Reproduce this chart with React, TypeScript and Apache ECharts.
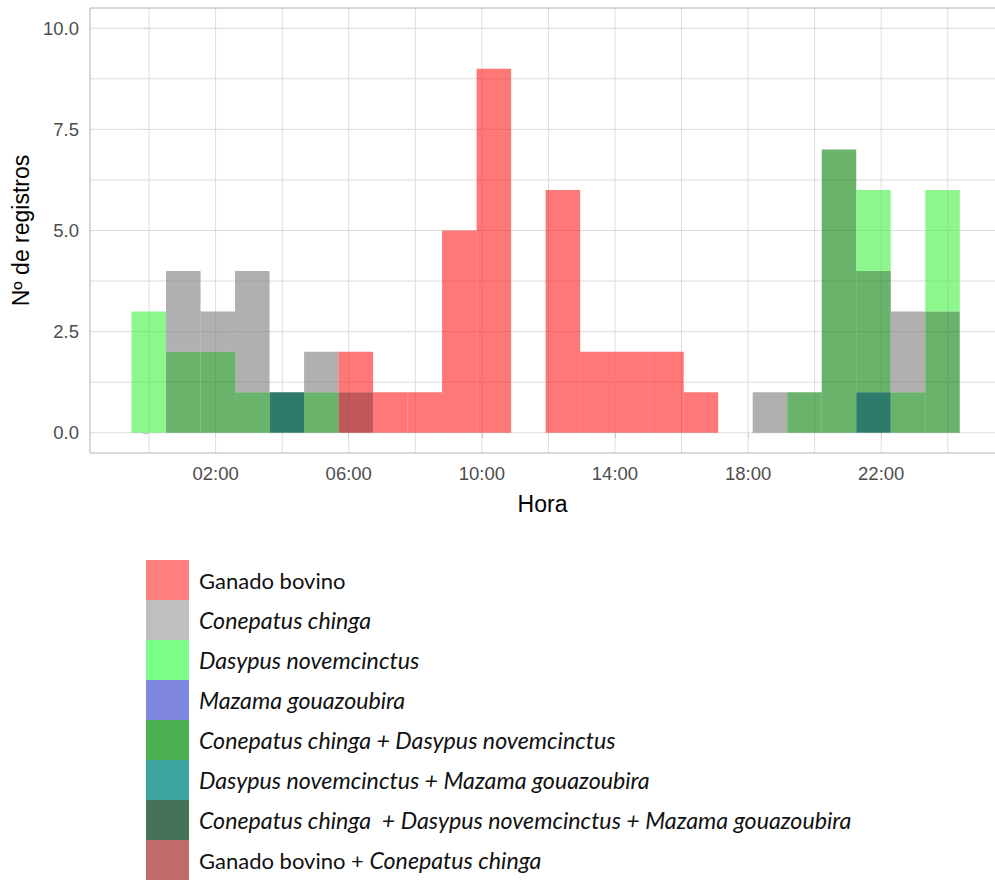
import React, { useEffect, useRef } from "react";
import * as echarts from "echarts";

// Histogram bins (hours of day)
const BIN_WIDTH = 1.037;
const FIRST_BIN_START = -0.527;

// Category names (legend order)
const CATEGORIES = [
  "Ganado bovino",
  "Conepatus chinga",
  "Dasypus novemcinctus",
  "Mazama gouazoubira",
  "Conepatus chinga + Dasypus novemcinctus",
  "Dasypus novemcinctus + Mazama gouazoubira",
  "Conepatus chinga  + Dasypus novemcinctus + Mazama gouazoubira",
  "Ganado bovino + Conepatus chinga",
];

// Counts per bin (24 bins) for each category
const ganado = [0, 0, 0, 0, 0, 0, 1, 1, 1, 5, 9, 0, 6, 2, 2, 2, 1, 0, 0, 0, 0, 0, 0, 0];
const conepatus = [0, 2, 1, 3, 0, 1, 0, 0, 0, 0, 0, 0, 0, 0, 0, 0, 0, 0, 1, 0, 0, 0, 2, 0];
const dasypus = [3, 0, 0, 0, 0, 0, 0, 0, 0, 0, 0, 0, 0, 0, 0, 0, 0, 0, 0, 0, 0, 2, 0, 3];
const mazama = [0, 0, 0, 0, 0, 0, 0, 0, 0, 0, 0, 0, 0, 0, 0, 0, 0, 0, 0, 0, 0, 0, 0, 0];
const conDas = [0, 2, 2, 1, 0, 1, 0, 0, 0, 0, 0, 0, 0, 0, 0, 0, 0, 0, 0, 1, 7, 3, 1, 3];
const dasMaz = [0, 0, 0, 0, 0, 0, 0, 0, 0, 0, 0, 0, 0, 0, 0, 0, 0, 0, 0, 0, 0, 0, 0, 0];
const conDasMaz = [0, 0, 0, 0, 1, 0, 0, 0, 0, 0, 0, 0, 0, 0, 0, 0, 0, 0, 0, 0, 0, 1, 0, 0];
const ganCon = [0, 0, 0, 0, 0, 0, 1, 0, 0, 0, 0, 0, 0, 0, 0, 0, 0, 0, 0, 0, 0, 0, 0, 0];

const COUNTS = [ganado, conepatus, dasypus, mazama, conDas, dasMaz, conDasMaz, ganCon];

// Bar fills (translucent) and legend swatches
const BAR_COLORS = [
  "rgba(255,30,30,0.6)",
  "rgba(123,123,123,0.6)",
  "rgba(65,241,65,0.6)",
  "rgba(60,70,220,0.6)",
  "rgba(7,128,7,0.6)",
  "rgba(0,130,125,0.7)",
  "rgba(9,100,81,0.85)",
  "rgba(165,16,19,0.7)",
];
const LEGEND_COLORS = [
  "#FF7F7F",
  "#BFBFBF",
  "#7BFF86",
  "#7F87DE",
  "#4CAF50",
  "#3CA5A0",
  "#44735A",
  "#C06B6B",
];

// stacking order bottom -> top (indices into CATEGORIES)
const STACK_ORDER = [7, 6, 5, 4, 3, 2, 1, 0];

// Axis ticks
const X_LABEL_HOURS = [2, 6, 10, 14, 18, 22];
const X_GRID_HOURS = [0, 2, 4, 6, 8, 10, 12, 14, 16, 18, 20, 22, 24];
const Y_LABELS = [0, 2.5, 5, 7.5, 10];
const Y_GRID = [0, 1.25, 2.5, 3.75, 5, 6.25, 7.5, 8.75, 10];

const X_MIN = -1.775;
const X_MAX = 25.42;
const Y_MIN = -0.5;
const Y_MAX = 10.5;

const LABEL_FONT = "'Liberation Sans', Arial, sans-serif";
const LEGEND_FONT = "Lato, 'Open Sans', sans-serif";

export default function App() {
  const ref = useRef<HTMLDivElement>(null);

  useEffect(() => {
    if (!ref.current) return;
    const chart = echarts.init(ref.current, undefined, { renderer: "svg" });

    // compute stack bases
    const base = new Array(COUNTS[0].length).fill(0);
    const dataByCat: any[][] = CATEGORIES.map(() => []);
    STACK_ORDER.forEach((ci) => {
      COUNTS[ci].forEach((v, k) => {
        const start = FIRST_BIN_START + k * BIN_WIDTH;
        if (v > 0) {
          dataByCat[ci].push([start, start + BIN_WIDTH, base[k], base[k] + v]);
        }
        base[k] += v;
      });
    });

    const barSeries = STACK_ORDER.map((ci) => ({
      type: "custom",
      name: CATEGORIES[ci],
      z: 3,
      silent: true,
      itemStyle: { color: LEGEND_COLORS[ci] },
      encode: { x: [0, 1], y: [2, 3] },
      data: dataByCat[ci],
      renderItem: (params: any, api: any) => {
        const p0 = api.coord([api.value(0), api.value(3)]);
        const p1 = api.coord([api.value(1), api.value(2)]);
        return {
          type: "rect",
          shape: { x: p0[0], y: p0[1], width: p1[0] - p0[0], height: p1[1] - p0[1] },
          style: { fill: BAR_COLORS[ci] },
        };
      },
    }));

    const gridData: [string, number][] = [
      ...Y_GRID.map((v) => ["h", v] as [string, number]),
      ...X_GRID_HOURS.map((v) => ["v", v] as [string, number]),
      ["top", 0],
      ["left", 0],
      ["bottom", 0],
    ];

    const gridSeries = {
      type: "custom",
      name: "grid",
      z: 1,
      silent: true,
      data: gridData.map((d, i) => [i]),
      renderItem: (params: any, api: any) => {
        const idx = api.value(0);
        const [kind, v] = gridData[idx];
        const cs = params.coordSys;
        const border = { stroke: "#B3B3B3", lineWidth: 1 };
        if (kind === "top") {
          return { type: "line", shape: { x1: cs.x, y1: cs.y, x2: cs.x + cs.width, y2: cs.y }, style: border };
        }
        if (kind === "bottom") {
          const y = cs.y + cs.height;
          return { type: "line", shape: { x1: cs.x, y1: y, x2: cs.x + cs.width, y2: y }, style: border };
        }
        if (kind === "left") {
          return { type: "line", shape: { x1: cs.x, y1: cs.y, x2: cs.x, y2: cs.y + cs.height }, style: border };
        }
        if (kind === "h") {
          const y = api.coord([0, v])[1];
          return {
            type: "line",
            shape: { x1: cs.x, y1: y, x2: cs.x + cs.width, y2: y },
            style: { stroke: "#DCDCDC", lineWidth: 1 },
          };
        }
        const x = api.coord([v, 0])[0];
        return {
          type: "line",
          shape: { x1: x, y1: cs.y, x2: x, y2: cs.y + cs.height },
          style: { stroke: "#DCDCDC", lineWidth: 1 },
        };
      },
    };

    const pad = (n: number) => (n < 10 ? "0" + n : "" + n);

    chart.setOption({
      animation: false,
      backgroundColor: "#ffffff",
      grid: {
        left: 90,
        top: 8,
        right: 0,
        height: 445,
        show: false,
      },
      xAxis: {
        type: "value",
        min: X_MIN,
        max: X_MAX,
        name: "Hora",
        nameLocation: "middle",
        nameGap: 39,
        nameTextStyle: { fontFamily: LABEL_FONT, fontSize: 23, color: "#000" },
        axisLine: { show: false },
        splitLine: { show: false },
        axisTick: {
          show: true,
          customValues: X_LABEL_HOURS,
          length: 5,
          lineStyle: { color: "#B3B3B3" },
        },
        axisLabel: {
          customValues: X_LABEL_HOURS,
          margin: 11,
          fontFamily: LABEL_FONT,
          fontSize: 18.5,
          color: "#4D4D4D",
          formatter: (v: number) => pad(Math.round(v)) + ":00",
        },
      },
      yAxis: {
        type: "value",
        min: Y_MIN,
        max: Y_MAX,
        name: "Nº de registros",
        nameLocation: "middle",
        nameRotate: 90,
        nameGap: 53,
        nameTextStyle: { fontFamily: LABEL_FONT, fontSize: 23, color: "#000" },
        axisLine: { show: false },
        splitLine: { show: false },
        axisTick: {
          show: true,
          customValues: Y_LABELS,
          length: 6,
          lineStyle: { color: "#B3B3B3" },
        },
        axisLabel: {
          customValues: Y_LABELS,
          margin: 11,
          fontFamily: LABEL_FONT,
          fontSize: 18.5,
          color: "#4D4D4D",
          formatter: (v: number) => v.toFixed(1),
        },
      },
      legend: {
        orient: "vertical",
        left: 146,
        top: 560,
        itemWidth: 43,
        itemHeight: 40,
        itemGap: 0,
        icon: "rect",
        selectedMode: false,
        padding: 0,
        data: CATEGORIES.map((name, i) => ({
          name,
          itemStyle: { color: LEGEND_COLORS[i], opacity: 1, borderWidth: 0 },
        })),
        textStyle: {
          fontFamily: LEGEND_FONT,
          fontSize: 22,
          color: "#111",
          padding: [0, 0, 0, 5],
          rich: {
            n: { fontFamily: LEGEND_FONT, fontSize: 22, color: "#111" },
            i: { fontFamily: LEGEND_FONT, fontSize: 23.2, color: "#111", fontStyle: "italic" },
          },
        },
        formatter: (name: string) => {
          if (name === "Ganado bovino") return "{n|Ganado bovino}";
          if (name.startsWith("Ganado bovino + ")) {
            return "{n|Ganado bovino + }{i|" + name.slice("Ganado bovino + ".length) + "}";
          }
          return "{i|" + name + "}";
        },
      },
      series: [gridSeries, ...barSeries],
    });

    return () => chart.dispose();
  }, []);

  return (
    <div
      ref={ref}
      style={{ position: "fixed", left: 0, top: 0, width: 995, height: 882, background: "#fff" }}
    />
  );
}
